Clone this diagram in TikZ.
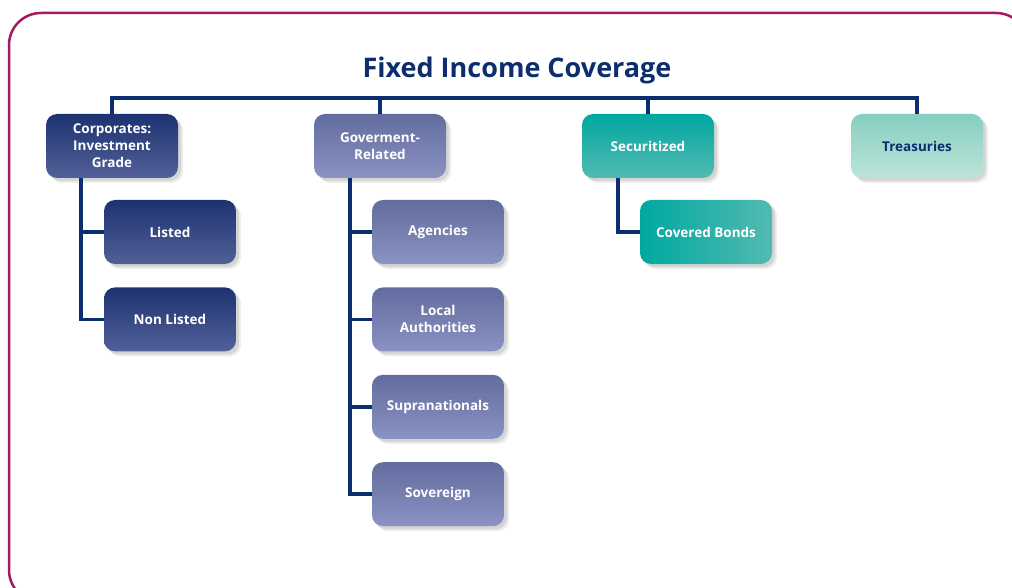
\documentclass[tikz,border=0pt]{standalone}
\usepackage{fontspec}
\setmainfont{Open Sans}
\usepackage{xcolor}
\usetikzlibrary{positioning,shadows,calc}

\definecolor{framecol}{RGB}{165,25,95}
\definecolor{navy}{RGB}{12,45,110}
\definecolor{corptop}{RGB}{28,50,112}
\definecolor{corpbot}{RGB}{82,96,152}
\definecolor{govtop}{RGB}{98,108,158}
\definecolor{govbot}{RGB}{138,147,194}
\definecolor{sectop}{RGB}{0,168,160}
\definecolor{secbot}{RGB}{82,186,178}
\definecolor{treastop}{RGB}{134,206,192}
\definecolor{treasbot}{RGB}{188,229,217}

\tikzset{
  box/.style={rounded corners=11pt, minimum width=132pt, minimum height=64pt,
    align=center, text=white, font=\fontsize{13.5}{17}\selectfont\bfseries,
    general shadow={shadow xshift=5pt, shadow yshift=-5pt, fill=black, opacity=.07},
    general shadow={shadow xshift=3pt, shadow yshift=-3pt, fill=black, opacity=.10}},
  corpbox/.style={box, top color=corptop, bottom color=corpbot},
  govbox/.style={box, top color=govtop, bottom color=govbot},
  secbox/.style={box, top color=sectop, bottom color=secbot},
  covbox/.style={box, left color=sectop, right color=secbot},
  treasbox/.style={box, top color=treastop, bottom color=treasbot, text=navy},
  link/.style={draw=navy, line width=3.5pt}
}

\begin{document}
\begin{tikzpicture}[x=1pt,y=-1pt]
\useasboundingbox (0,0) rectangle (1012,588);
\begin{scope}
\clip (0,0) rectangle (1012,588);
\draw[framecol, line width=2.5pt, rounded corners=32pt] (9,13) rectangle (1028,602);
\end{scope}

\node[text=navy, font=\fontsize{27}{31}\selectfont\bfseries] (title) at (517,70) {Fixed Income Coverage};

% top level
\node[corpbox] (corp) at (112,146) {Corporates:\\Investment\\Grade};
\node[govbox] (gov) at (380,146) {Goverment-\\Related};
\node[secbox] (sec) at (648,146) {Securitized};
\node[treasbox] (treas) at (917,146) {Treasuries};

% second level
\node[corpbox] (listed) at (170,232) {Listed};
\node[corpbox,below=23pt of listed] (nonlisted) {Non Listed};
\node[govbox] (agencies) at (438,232) {Agencies};
\node[govbox,below=23pt of agencies] (local) {Local\\Authorities};
\node[govbox,below=23pt of local] (supra) {Supranationals};
\node[govbox,below=23pt of supra] (sovereign) {Sovereign};
\node[covbox] (covered) at (706,232) {Covered Bonds};

\coordinate (bus) at (0,98);

\draw[link] (corp.north) |- (bus -| treas.north) -- (treas.north);
\draw[link] (gov.north) -- (gov.north |- bus);
\draw[link] (sec.north) -- (sec.north |- bus);

\draw[link] ([xshift=-31pt]corp.south) |- (listed.west);
\draw[link] ([xshift=-31pt]corp.south) |- (nonlisted.west);
\draw[link] ([xshift=-30pt]gov.south) |- (agencies.west);
\draw[link] ([xshift=-30pt]gov.south) |- (local.west);
\draw[link] ([xshift=-30pt]gov.south) |- (supra.west);
\draw[link] ([xshift=-30pt]gov.south) |- (sovereign.west);
\draw[link] ([xshift=-30pt]sec.south) |- (covered.west);
\end{tikzpicture}
\end{document}
